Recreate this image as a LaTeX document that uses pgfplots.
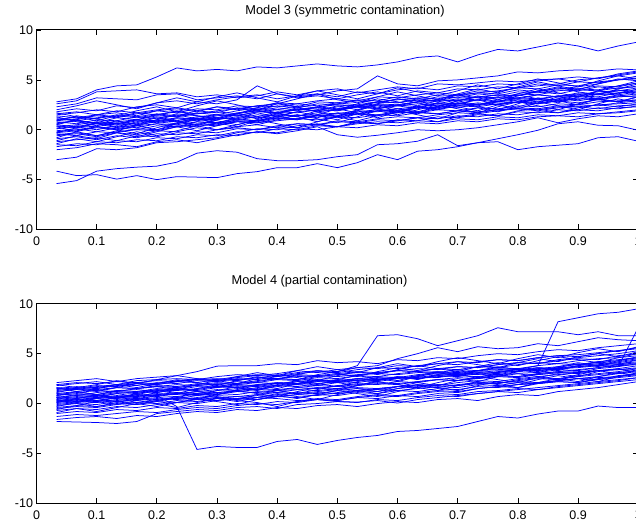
\documentclass[border=0pt]{standalone}
\usepackage{fontspec}
\setmainfont{Liberation Sans}
\usepackage{pgfplots}
\usepackage{pgfplotstable}
\pgfplotsset{compat=1.18}

% Model 3: one row per curve, columns = x positions
\pgfplotstableread{
id 0.0333 0.0667 0.1 0.1333 0.1667 0.2 0.2333 0.2667 0.3 0.3333 0.3667 0.4 0.4333 0.4667 0.5 0.5333 0.5667 0.6 0.6333 0.6667 0.7 0.7333 0.7667 0.8 0.8333 0.8667 0.9 0.9333 0.9667 1.0
t1 2.3 2.6 3.2 3.1 3.0 3.5 3.6 3.0 3.2 3.4 3.1 3.6 3.3 3.5 3.9 4.1 5.4 4.6 4.4 4.9 5.0 5.2 5.4 5.8 5.7 5.9 6.0 5.9 6.1 6.0
t2 1.8 2.1 1.9 2.4 2.2 2.7 2.9 2.6 3.0 3.3 3.5 3.1 3.4 3.6 3.3 3.8 3.6 4.0 4.2 4.0 4.4 4.3 4.6 4.5 4.9 5.1 4.8 5.2 5.4 5.7
t3 1.5 1.7 2.0 1.8 2.3 2.5 2.2 2.8 2.6 3.0 4.4 3.6 3.2 3.4 3.1 3.5 3.8 3.4 3.9 3.7 4.1 4.0 4.3 4.2 4.6 4.4 4.8 4.7 5.0 5.1
t4 1.2 1.0 1.5 1.7 1.4 1.9 2.1 1.8 2.3 2.0 2.4 2.6 2.3 2.8 2.7 3.0 2.9 3.3 3.1 3.5 3.4 3.7 3.6 4.0 3.8 4.2 4.1 4.4 4.3 4.7
t5 1.0 1.3 1.1 1.5 1.3 1.6 1.4 1.9 1.7 2.2 2.0 2.4 2.2 2.6 2.5 2.3 2.8 2.7 3.1 2.9 3.3 3.2 3.5 3.4 3.8 3.6 4.0 3.9 4.2 4.3
t6 0.8 0.6 1.0 0.9 1.3 1.1 1.6 1.4 1.2 1.7 1.9 1.6 2.1 1.9 2.3 2.2 2.5 2.4 2.1 2.7 2.6 3.0 2.8 3.2 3.1 3.4 3.3 3.6 3.5 3.8
t7 0.6 0.9 0.7 1.2 1.0 1.4 1.3 1.7 1.5 1.9 2.2 2.0 2.4 2.2 2.6 2.9 2.7 3.1 2.9 3.3 3.2 3.6 3.4 3.8 3.7 4.0 3.9 4.3 4.1 4.4
t8 0.5 0.3 0.7 0.6 0.4 0.9 0.8 1.1 1.0 1.3 1.2 1.5 1.4 1.7 1.6 1.9 1.8 2.1 2.3 2.0 2.4 2.3 2.6 2.8 2.6 2.9 3.1 3.0 3.3 3.4
t9 0.3 0.5 0.8 0.6 1.0 0.9 1.2 1.0 1.4 1.6 1.3 1.8 1.7 2.0 1.9 2.3 2.1 2.5 2.8 2.6 3.0 2.9 3.2 3.1 3.5 3.3 3.7 3.6 3.9 4.0
t10 0.1 0.3 0.0 0.4 0.2 0.6 0.5 0.8 0.6 1.0 0.9 1.2 1.1 1.4 1.2 1.6 1.5 1.8 1.7 2.0 1.9 2.2 2.1 2.4 2.3 2.6 2.5 2.8 2.9 3.0
t11 -0.1 0.1 -0.2 0.2 0.0 0.4 0.3 0.6 0.5 0.8 0.7 0.9 1.1 1.0 1.3 1.2 1.5 1.4 1.7 1.6 1.9 1.8 2.0 2.2 2.1 2.4 2.3 2.5 2.6 2.7
t12 -0.3 -0.1 0.2 0.0 0.4 0.6 0.3 0.8 0.7 1.1 0.9 1.3 1.5 1.2 1.7 1.6 1.9 2.1 1.8 2.3 2.2 2.6 2.5 2.8 3.0 2.8 3.2 3.1 3.4 3.6
t13 -0.6 -0.4 -0.7 -0.3 -0.5 -0.1 -0.2 0.2 0.0 0.3 0.5 0.2 0.6 0.5 0.8 0.7 1.0 0.9 1.2 1.1 1.4 1.3 1.6 1.5 1.8 1.7 2.0 1.9 2.2 2.3
t14 -0.9 -0.7 -1.0 -0.6 -0.8 -0.4 -0.5 -0.2 -0.3 0.1 0.0 0.3 0.2 0.5 0.3 0.6 0.8 0.7 0.9 0.8 1.1 1.0 1.3 1.2 1.5 1.4 1.7 1.6 1.8 2.0
t15 -1.2 -1.0 -0.8 -1.1 -0.6 -0.7 -0.3 -0.4 0.0 0.2 0.0 0.4 0.6 0.5 0.9 0.8 1.1 1.3 1.2 1.5 1.7 1.6 1.9 2.1 2.0 2.3 2.5 2.4 2.7 2.9
t16 -1.5 -1.6 -1.2 -1.3 -1.0 -1.1 -0.7 -0.8 -0.5 -0.6 -0.2 -0.3 0.1 0.0 0.3 0.2 0.5 0.4 0.7 0.6 0.9 0.8 1.1 1.0 1.3 1.4 1.3 1.6 1.7 1.9
t17 -1.7 -1.4 -1.5 -1.1 -1.2 -0.8 -0.9 -0.5 -0.6 -0.2 -0.3 0.1 0.0 0.4 0.3 0.7 0.6 1.0 0.9 1.3 1.2 1.5 1.4 1.8 1.7 2.0 1.9 2.2 2.1 2.4
t18 -2.0 -1.8 -1.4 -1.5 -1.7 -1.2 -1.0 -1.3 -0.9 -0.5 -0.2 -0.4 -0.1 0.3 -0.5 -0.75 -0.55 -0.3 0.0 -0.1 0.0 0.2 0.5 0.8 1.2 0.7 1.1 1.4 1.3 1.6
t19 1.4 1.2 1.5 1.3 1.7 1.5 1.8 1.6 1.9 2.1 1.9 2.2 2.0 2.3 2.1 2.4 2.2 2.5 2.3 2.6 2.4 2.7 2.5 2.8 2.6 2.9 2.7 3.0 2.8 3.0
t20 0.9 1.1 1.4 1.2 1.6 1.9 1.7 2.1 2.0 2.4 2.3 2.7 2.6 2.9 3.1 2.9 3.3 3.2 3.5 3.7 3.5 3.9 3.8 4.2 4.1 4.5 4.4 4.8 5.0 5.2
t21 0.4 0.2 0.6 0.5 0.9 0.8 1.2 1.1 1.5 1.4 1.8 1.7 2.0 2.2 2.0 2.4 2.6 2.5 2.8 3.0 2.9 3.3 3.2 3.6 3.5 3.9 4.1 4.0 4.4 4.7
t22 -0.2 0.0 0.3 0.1 0.5 0.8 0.6 1.0 1.2 1.1 1.5 1.4 1.8 2.0 1.9 2.3 2.5 2.4 2.8 3.0 2.9 3.3 3.5 3.4 3.9 4.1 4.3 4.6 5.0 5.4
t23 1.6 1.8 1.5 1.9 1.7 2.0 2.2 1.9 2.3 2.1 2.4 2.3 2.6 2.4 2.7 2.5 2.8 2.7 3.0 2.8 3.1 3.0 3.3 3.2 3.5 3.3 3.6 3.5 3.7 3.8
t24 -0.4 -0.6 -0.2 -0.3 0.1 0.0 0.4 0.3 0.7 0.9 0.8 1.2 1.1 1.5 1.4 1.8 2.0 1.9 2.3 2.2 2.6 2.5 2.9 3.1 3.0 3.4 3.5 3.8 3.9 4.2
t25 0.7 0.9 0.6 0.8 1.0 0.7 1.1 0.9 1.2 1.0 1.3 1.1 1.4 1.5 1.3 1.6 1.4 1.7 1.8 1.6 1.9 1.7 2.0 2.1 1.9 2.2 2.3 2.1 2.4 2.5
t26 1.1 0.9 1.2 1.4 1.2 1.5 1.3 1.6 1.8 1.6 1.9 1.7 2.0 2.2 2.0 2.3 2.1 2.4 2.6 2.4 2.7 2.5 2.8 3.0 2.8 3.1 2.9 3.2 3.3 3.4
t27 -0.5 -0.3 -0.6 -0.2 0.0 -0.1 0.3 0.5 0.4 0.8 0.7 1.1 1.0 1.4 1.6 1.5 1.9 1.8 2.2 2.1 2.5 2.4 2.8 2.7 3.1 3.0 3.4 3.3 3.7 3.9
t28 0.1 0.4 0.3 0.7 0.6 1.0 0.9 1.3 1.5 1.4 1.8 2.0 1.9 2.3 2.5 2.4 2.8 3.0 3.2 3.1 3.5 3.7 3.9 4.2 4.4 4.6 5.0 5.2 5.5 5.8
t29 0.9 1.4 1.1 0.6 1.0 1.5 1.9 1.4 1.1 1.6 2.2 2.7 2.3 1.8 2.0 2.6 3.1 2.8 2.4 2.9 3.5 3.2 2.8 3.4 3.9 4.3 3.8 3.5 4.1 4.6
t30 -0.8 -0.2 0.3 0.0 -0.4 0.2 0.7 1.2 0.9 0.5 1.0 1.6 1.3 0.8 1.4 2.0 2.4 1.9 1.6 2.2 2.7 2.3 2.0 2.6 3.2 2.9 2.5 3.1 3.5 3.2
t31 1.7 1.3 0.9 1.4 1.9 2.3 1.8 2.4 2.9 2.5 2.0 2.6 3.1 3.6 3.0 2.7 3.3 3.8 3.4 3.0 3.6 4.1 3.7 4.3 4.8 4.4 4.0 4.6 5.1 4.9
t32 0.3 -0.2 -0.6 -0.1 0.4 0.0 0.6 1.1 0.7 0.3 0.9 1.4 1.0 1.5 2.1 1.7 1.2 1.8 2.3 2.0 2.6 3.0 2.5 2.1 2.7 3.3 3.0 3.6 4.0 3.5
t33 -1.1 -0.6 -0.9 -0.3 -0.7 -0.2 0.3 -0.1 0.4 0.9 0.5 1.0 1.5 1.1 0.7 1.3 1.9 1.5 2.0 2.5 2.1 1.7 2.3 2.8 2.4 2.0 2.6 3.1 2.8 3.3
t34 2.0 2.4 2.9 2.5 2.1 2.7 3.2 2.8 3.3 3.7 3.2 2.8 3.4 3.9 3.5 3.1 3.6 4.2 3.8 3.4 3.9 4.5 4.1 4.6 5.1 4.7 4.3 4.9 5.4 5.1
t35 0.5 1.0 0.6 0.2 0.7 1.2 0.8 0.4 1.0 1.5 1.1 1.7 2.2 1.8 1.3 1.9 2.5 2.1 1.7 2.3 2.9 2.5 3.0 3.5 3.1 2.7 3.3 3.9 3.6 4.1
t36 -0.3 0.2 0.7 0.3 0.8 1.3 0.9 0.5 1.1 1.6 2.1 1.7 1.3 1.9 2.4 2.0 2.6 3.1 2.7 2.3 2.9 3.4 3.0 3.6 4.1 3.7 3.3 3.9 4.4 4.9
t37 1.3 0.8 0.4 0.9 0.5 1.0 1.5 1.1 0.7 1.2 1.7 1.3 1.8 1.4 1.0 1.6 2.1 1.7 2.2 2.7 2.3 1.9 2.5 3.0 2.6 3.1 3.5 3.1 2.8 3.3
t38 -1.4 -0.9 -1.2 -0.7 -0.2 -0.6 -0.1 0.4 0.0 0.5 1.0 0.6 0.2 0.8 1.3 0.9 1.4 1.9 1.5 1.1 1.7 2.2 1.8 2.3 2.8 2.4 2.0 2.6 3.1 2.7
th 2.8 3.1 4.0 4.4 4.5 5.3 6.2 5.9 6.05 5.9 6.3 6.2 6.4 6.6 6.4 6.3 6.5 6.8 7.25 7.4 6.8 7.5 8.05 7.9 8.3 8.7 8.4 7.9 8.4 8.8
hb 2.6 2.9 3.8 3.9 4.0 3.6 3.7 3.3 3.5 3.2 3.4 3.8 3.5 3.9 4.1 3.7 4.0 4.3 4.1 4.6 4.5 4.7 4.9 4.8 5.0 5.1 5.3 5.1 5.6 5.9
m -3.0 -2.75 -1.9 -2.0 -1.8 -1.3 -1.2 -1.0 -0.8 -0.3 0.1 0.0 0.4 0.6 0.3 0.8 0.6 0.9 1.2 0.8 1.3 1.6 1.4 1.9 2.1 1.7 2.2 2.5 2.3 2.6
l1 -5.4 -5.1 -4.15 -3.9 -3.75 -3.65 -3.25 -2.35 -2.1 -2.25 -2.9 -3.1 -3.1 -3.0 -2.7 -2.5 -1.5 -1.4 -1.15 -0.5 -1.6 -1.3 -0.9 -0.5 -0.05 0.6 0.8 0.45 0.4 -0.05
l2 -4.15 -4.6 -4.5 -4.95 -4.6 -5.0 -4.7 -4.75 -4.8 -4.4 -4.2 -3.8 -3.8 -3.4 -3.8 -3.3 -2.5 -3.0 -2.15 -2.0 -1.7 -1.3 -1.2 -2.0 -1.7 -1.55 -1.4 -0.8 -0.7 -1.15
}\rawA
\pgfplotstabletranspose[colnames from=id]{\dataA}{\rawA}

% Model 4
\pgfplotstableread{
id 0.0333 0.0667 0.1 0.1333 0.1667 0.2 0.2333 0.2667 0.3 0.3333 0.3667 0.4 0.4333 0.4667 0.5 0.5333 0.5667 0.6 0.6333 0.6667 0.7 0.7333 0.7667 0.8 0.8333 0.8667 0.9 0.9333 0.9667 1.0
b1 2.1 2.3 2.5 2.2 2.5 2.65 2.8 3.2 3.75 3.8 3.8 4.0 3.9 4.3 4.1 4.2 4.0 4.4 4.3 4.6 4.5 4.8 5.0 4.9 5.2 5.4 5.3 5.6 5.8 6.0
b2 1.8 2.0 2.2 1.9 2.3 2.4 2.5 2.4 2.7 2.9 2.8 3.0 3.3 3.1 3.4 3.6 3.5 3.8 3.7 4.0 4.2 4.1 4.4 4.3 4.6 4.8 4.7 5.0 5.3 5.6
b3 1.5 1.4 1.7 1.9 1.8 2.1 2.0 2.3 2.2 2.5 2.4 2.7 2.9 2.8 3.0 3.2 3.1 3.3 3.5 3.4 3.7 3.6 3.9 4.1 4.0 4.3 4.5 4.4 4.8 5.0
b4 1.2 1.4 1.3 1.6 1.5 1.8 1.7 2.0 1.9 2.2 2.1 2.4 2.3 2.6 2.5 2.8 2.7 3.0 3.2 3.1 3.4 3.3 3.6 3.5 3.8 4.0 3.9 4.2 4.4 4.6
b5 1.0 0.8 1.1 1.3 1.2 1.5 1.4 1.7 1.6 1.9 1.8 2.1 2.0 2.3 2.2 2.5 2.4 2.7 2.6 2.9 2.8 3.1 3.3 3.2 3.5 3.4 3.7 3.9 4.0 4.2
b6 0.8 1.0 0.9 1.2 1.1 1.4 1.3 1.5 1.7 1.6 1.9 1.8 2.0 2.2 2.1 2.4 2.3 2.6 2.5 2.8 2.7 3.0 2.9 3.2 3.1 3.4 3.3 3.6 3.8 3.9
b7 0.6 0.8 0.7 1.0 1.2 1.1 1.4 1.3 1.6 1.8 1.7 2.0 1.9 2.2 2.4 2.3 2.6 2.5 2.8 3.0 2.9 3.2 3.1 3.4 3.6 3.5 3.8 4.0 4.1 4.4
b8 0.4 0.6 0.5 0.7 0.9 0.8 1.0 1.2 1.1 1.3 1.5 1.4 1.6 1.8 1.7 1.9 2.1 2.0 2.2 2.4 2.3 2.5 2.7 2.6 2.9 3.1 3.0 3.3 3.4 3.6
b9 0.2 0.4 0.3 0.6 0.5 0.8 0.7 1.0 0.9 1.2 1.4 1.3 1.6 1.5 1.8 2.0 1.9 2.2 2.1 2.4 2.6 2.5 2.8 2.7 3.0 3.2 3.1 3.5 3.7 4.0
b10 0.0 0.2 0.1 0.3 0.5 0.4 0.6 0.5 0.8 0.7 0.9 1.1 1.0 1.2 1.4 1.3 1.5 1.7 1.6 1.9 1.8 2.1 2.0 2.3 2.5 2.4 2.7 2.9 3.1 3.3
b11 -0.2 0.0 -0.1 0.2 0.1 0.3 0.5 0.4 0.6 0.5 0.8 0.7 0.9 1.1 1.0 1.2 1.4 1.3 1.5 1.7 1.6 1.9 1.8 2.1 2.0 2.3 2.5 2.4 2.8 3.0
b12 -0.4 -0.2 -0.3 0.0 -0.1 0.2 0.1 0.4 0.3 0.5 0.4 0.7 0.6 0.9 0.8 1.1 1.0 1.3 1.2 1.5 1.4 1.7 1.6 1.9 2.0 2.2 2.1 2.4 2.6 2.8
b13 -0.7 -0.5 -0.6 -0.3 -0.4 -0.1 0.1 0.0 0.3 0.5 0.4 0.7 0.9 0.8 1.1 1.3 1.2 1.5 1.7 1.6 1.9 2.1 2.0 2.4 2.6 2.5 2.8 3.0 3.2 3.5
b14 -1.0 -0.8 -0.9 -0.6 -0.7 -0.4 -0.5 -0.2 -0.3 0.0 -0.1 0.2 0.1 0.4 0.3 0.6 0.5 0.8 0.7 1.0 0.9 1.2 1.3 1.5 1.4 1.7 1.9 2.1 2.3 2.6
b15 -1.3 -1.1 -1.2 -1.0 -0.8 -0.9 -0.6 -0.4 -0.5 -0.2 0.0 -0.1 0.2 0.4 0.3 0.6 0.8 0.7 1.0 1.2 1.1 1.5 1.7 1.6 2.0 2.2 2.1 2.5 2.7 3.0
b16 -1.8 -1.85 -1.9 -2.0 -1.8 -1.0 -0.8 -0.6 -0.7 -0.4 -0.3 -0.5 -0.1 0.0 0.2 0.1 0.4 0.3 0.6 0.8 0.7 1.0 1.2 1.1 1.4 1.6 1.8 2.0 2.2 2.4
b17 -1.6 -1.4 -1.3 -1.5 -1.2 -1.3 -1.0 -0.8 -0.9 -0.6 -0.7 -0.4 -0.5 -0.2 -0.1 -0.3 0.0 0.2 0.1 0.4 0.5 0.3 0.7 0.9 0.8 1.2 1.4 1.6 1.9 2.2
b18 1.6 1.5 1.8 1.7 2.0 1.9 2.2 2.1 2.4 2.3 2.6 2.5 2.8 2.7 2.9 3.1 3.0 3.3 3.2 3.5 3.4 3.7 3.6 3.9 4.1 4.0 4.3 4.5 4.6 4.8
b19 1.3 1.5 1.4 1.6 1.5 1.7 1.9 1.8 2.0 1.9 2.1 2.0 2.2 2.4 2.3 2.5 2.4 2.6 2.5 2.7 2.8 2.7 2.9 3.0 2.9 3.1 3.2 3.3 3.4 3.5
b20 0.9 1.1 1.3 1.2 1.5 1.7 1.6 1.9 2.1 2.0 2.3 2.5 2.4 2.7 2.9 2.8 3.1 3.3 3.2 3.5 3.7 3.6 3.9 4.1 4.0 4.4 4.6 4.8 5.0 5.3
b21 0.5 0.7 0.6 0.8 0.7 0.9 1.0 0.9 1.1 1.2 1.1 1.3 1.4 1.3 1.5 1.6 1.5 1.7 1.8 1.9 1.8 2.0 2.1 2.2 2.1 2.3 2.5 2.6 2.7 2.9
b22 0.3 0.2 0.5 0.7 0.6 0.9 1.1 1.0 1.3 1.5 1.4 1.7 1.9 1.8 2.1 2.3 2.2 2.5 2.7 2.6 2.9 3.1 3.0 3.3 3.5 3.7 3.9 4.1 4.3 4.6
b23 -0.1 0.1 0.3 0.2 0.4 0.6 0.5 0.8 1.0 0.9 1.2 1.1 1.4 1.6 1.5 1.8 2.0 1.9 2.2 2.4 2.3 2.6 2.8 2.7 3.0 3.2 3.4 3.6 3.9 4.1
b24 -0.5 -0.3 -0.4 -0.1 0.1 0.0 0.3 0.2 0.5 0.7 0.6 0.9 1.1 1.0 1.3 1.5 1.4 1.7 1.9 1.8 2.1 2.3 2.2 2.5 2.7 2.9 3.1 3.3 3.5 3.8
b25 0.7 0.5 0.8 0.6 0.9 0.7 1.0 0.8 0.6 0.3 0.1 -0.3 0.2 0.5 0.4 0.7 0.9 0.8 1.1 1.3 1.2 1.5 1.7 1.9 2.1 2.3 2.5 2.7 3.0 3.2
b26 1.9 2.1 2.0 2.2 2.1 2.3 2.2 2.4 2.5 2.4 2.6 2.5 2.7 2.8 2.7 2.9 3.0 2.9 3.1 3.2 3.1 3.3 3.4 3.5 3.4 3.6 3.7 3.8 3.9 4.0
b27 0.1 0.3 0.2 0.4 0.3 0.5 0.4 0.6 0.5 0.4 0.6 0.5 0.3 0.4 0.2 0.15 0.3 0.05 0.4 0.6 0.8 1.0 1.2 1.4 1.6 1.8 2.0 2.2 2.4 2.6
b28 1.4 1.6 1.5 1.8 2.0 1.9 2.2 2.4 2.3 2.6 2.8 2.7 3.0 3.2 3.1 3.4 3.6 3.5 3.8 4.0 3.9 4.2 4.4 4.3 4.6 4.8 4.9 5.1 5.3 5.5
b29 0.8 1.2 0.9 0.5 0.9 1.3 1.0 1.5 1.9 1.6 1.3 1.8 2.2 1.9 2.4 2.8 2.5 2.2 2.7 3.1 2.8 3.3 3.7 3.4 3.1 3.6 4.0 3.7 4.2 4.5
b30 -0.3 0.1 0.5 0.2 -0.1 0.3 0.7 0.4 0.9 1.3 1.0 0.7 1.2 1.6 1.3 1.8 2.2 1.9 1.6 2.1 2.5 2.2 2.7 3.0 2.7 2.4 2.9 3.3 3.0 3.4
b31 1.6 1.2 1.5 1.9 1.6 2.0 2.4 2.1 1.8 2.3 2.7 2.4 2.9 3.3 3.0 2.7 3.2 3.6 3.3 3.8 4.2 3.9 3.6 4.1 4.5 4.2 4.7 5.0 4.7 5.2
b32 0.4 0.0 -0.3 0.1 0.5 0.2 0.6 1.0 0.7 0.4 0.9 1.3 1.0 1.4 1.8 1.5 1.2 1.7 2.1 1.8 2.3 2.7 2.4 2.1 2.6 3.0 2.7 3.2 3.5 3.1
b33 1.1 1.5 1.2 1.6 2.0 1.7 1.4 1.9 2.3 2.0 2.5 2.9 2.6 2.3 2.8 3.2 2.9 3.4 3.8 3.5 3.2 3.7 4.1 3.8 4.3 4.7 4.4 4.1 4.6 5.0
b34 -0.9 -0.5 -0.8 -0.4 0.0 -0.3 0.1 0.5 0.2 -0.1 0.4 0.8 0.5 0.9 1.3 1.0 0.7 1.2 1.6 1.3 1.8 2.2 1.9 1.6 2.1 2.5 2.2 2.7 3.1 2.8
b35 0.1 0.5 0.9 0.6 1.0 1.4 1.1 0.8 1.3 1.7 1.4 1.9 2.3 2.0 1.7 2.2 2.6 2.3 2.8 3.2 2.9 2.6 3.1 3.5 3.2 3.7 4.1 3.8 4.3 4.7
b36 1.9 1.6 1.9 2.3 2.0 2.4 2.8 2.5 2.2 2.7 3.1 2.8 3.3 3.7 3.4 3.1 3.6 4.0 3.7 4.2 4.6 4.3 4.0 4.5 4.9 4.6 5.1 5.5 5.2 5.7
b37 -0.6 -0.2 0.2 -0.1 0.3 0.0 -0.4 0.1 0.5 0.2 0.6 1.0 0.7 0.4 0.9 1.3 1.0 1.5 1.9 1.6 1.3 1.8 2.2 1.9 2.4 2.8 2.5 2.2 2.7 3.1
b38 0.6 0.2 0.6 1.0 0.7 1.1 1.5 1.2 0.9 1.4 1.8 1.5 2.0 2.4 2.1 1.8 2.3 2.7 2.4 2.9 3.3 3.0 2.7 3.2 3.6 3.3 3.8 4.2 3.9 4.4
bj1 0.3 0.5 0.2 0.6 0.4 0.8 -0.3 -4.6 -4.3 -4.4 -4.4 -3.8 -3.6 -4.1 -3.7 -3.4 -3.2 -2.8 -2.7 -2.5 -2.3 -1.8 -1.3 -1.45 -1.05 -0.75 -0.75 -0.25 -0.4 -0.4
bh1 1.0 1.2 0.9 1.3 1.4 1.2 1.6 1.8 1.7 2.0 2.2 2.5 2.4 2.9 3.2 3.8 6.8 6.9 6.5 5.8 6.3 6.8 7.6 7.2 7.2 7.2 6.9 7.2 6.8 6.8
bh2 1.5 1.7 1.6 1.9 2.1 2.0 2.3 2.5 2.4 2.7 2.9 2.8 3.1 3.3 3.2 3.6 3.8 4.5 5.0 5.6 5.2 5.7 5.5 5.6 6.0 5.8 6.2 6.6 6.4 6.3
bh3 0.6 0.9 0.8 1.1 1.0 1.3 1.5 1.4 1.7 1.6 1.9 2.1 2.0 2.3 2.2 2.5 2.7 2.6 2.9 3.1 3.0 3.3 3.5 3.4 3.8 8.2 8.6 9.0 9.15 9.5
bh4 0.2 0.4 0.6 0.5 0.8 1.0 0.9 1.2 1.4 1.3 1.6 1.8 1.7 2.0 2.2 2.1 2.4 2.6 2.5 2.8 3.0 2.9 3.2 3.4 3.3 3.5 3.6 3.8 3.7 7.6
}\rawB
\pgfplotstabletranspose[colnames from=id]{\dataB}{\rawB}

\pgfplotsset{
  panel/.style={
    scale only axis, width=601.7pt, height=199.5pt,
    xmin=0, xmax=1, ymin=-10, ymax=10,
    xtick={0,0.1,0.2,0.3,0.4,0.5,0.6,0.7,0.8,0.9,1},
    ytick={-10,-5,0,5,10},
    tick align=inside, major tick length=5pt,
    axis line style={black, line width=1pt},
    every tick/.style={black, line width=0.7pt},
    tick label style={font=\fontsize{12.5}{14}\selectfont},
    xticklabel style={yshift=-3.5pt},
    /pgf/number format/assume math mode=true,
    title style={font=\fontsize{12.8}{14}\selectfont, anchor=base},
  },
  curve/.style={color=blue, line width=0.75pt, mark=none},
}

\begin{document}
\begin{tikzpicture}
\begin{axis}[panel, at={(36.5pt,295.5pt)}, anchor=south west,
  title={Model 3 (symmetric contamination)},
  title style={at={(0.5127,1)}, yshift=9.5pt}]
\pgfplotsinvokeforeach{1,...,43}{
  \addplot[curve] table[x=colnames, y index=#1] {\dataA};
}
\end{axis}
\begin{axis}[panel, at={(36.5pt,21.7pt)}, anchor=south west,
  title={Model 4 (partial contamination)},
  title style={at={(0.4703,1)}, yshift=13.3pt}]
\pgfplotsinvokeforeach{1,...,43}{
  \addplot[curve] table[x=colnames, y index=#1] {\dataB};
}
\end{axis}
\pgfresetboundingbox
\useasboundingbox (0pt,0pt) rectangle (636pt,525pt);
\end{tikzpicture}
\end{document}
